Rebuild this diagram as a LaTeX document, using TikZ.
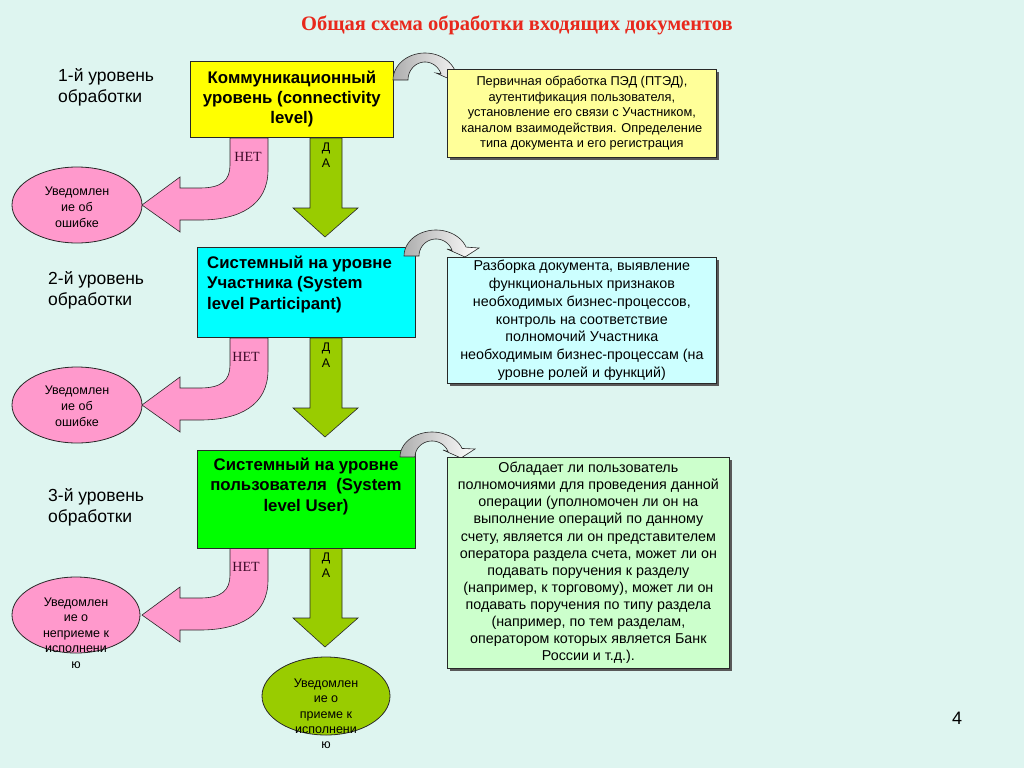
\documentclass[tikz,border=0pt]{standalone}
\usepackage{fontspec}
\setmainfont{Liberation Sans}
\newfontfamily\serifft{Liberation Serif}
\usetikzlibrary{shapes.geometric,shadows}

\definecolor{bg}{RGB}{222,245,240}
\definecolor{titlered}{RGB}{232,40,28}
\definecolor{pinkf}{RGB}{255,153,204}
\definecolor{dagreen}{RGB}{153,204,0}
\definecolor{lyellow}{RGB}{255,255,153}
\definecolor{lcyan}{RGB}{204,255,255}
\definecolor{lgreen}{RGB}{204,255,204}
\definecolor{brgreen}{RGB}{0,255,0}
\definecolor{bryellow}{RGB}{255,255,0}
\definecolor{brcyan}{RGB}{0,255,255}
\definecolor{nettext}{RGB}{60,10,40}
\definecolor{edge}{RGB}{40,40,40}

% curved block arrow, #1,#2 = centre of the arc, #3 = outer y radius
\newcommand\mycurvarrow[3]{%
  \draw[edge, line width=0.6pt, left color=black!32, middle color=black!14, right color=white]
    plot[domain=180:340, samples=30] ({#1+32*cos(\x)},{#2+#3*sin(\x)})
    -- ({#1+43},{#2-8}) -- ({#1+29},{#2+1}) -- ({#1+11},{#2-7})
    -- plot[domain=340:180, samples=30] ({#1+17*cos(\x)},{#2+(#3-9)*sin(\x)})
    -- cycle;}

\newcommand\mynetarrow[1]{%
  \draw[edge, line width=0.6pt, fill=pinkf]
    (230,138+#1) -- (268,138+#1) -- (268,170+#1)
    .. controls (268,205+#1) and (240,220+#1) .. (200,220+#1)
    -- (180,220+#1) -- (180,232+#1) -- (142,205+#1) -- (180,177+#1)
    -- (180,188+#1) -- (200,188+#1)
    .. controls (222,188+#1) and (230,180+#1) .. (230,165+#1) -- cycle;}

\newcommand\mydaarrow[2]{% top y, tip y
  \draw[edge, line width=0.6pt, fill=dagreen]
    (310,#1) -- (342,#1) -- (342,#2-29) -- (358,#2-29) -- (325,#2)
    -- (293,#2-29) -- (310,#2-29) -- cycle;}

\begin{document}
\begin{tikzpicture}[x=1pt,y=-1pt,
  mainbox/.style={draw=edge, line width=0.8pt, anchor=north west, inner sep=0pt},
  infobox/.style={draw=edge, line width=0.8pt, anchor=north west, inner sep=0pt, align=center,
     drop shadow={shadow xshift=3pt, shadow yshift=-3pt, fill=black!65, opacity=1}},
  boxtxt/.style={inner sep=0pt, font=\bfseries\fontsize{16.8}{20.5}\selectfont},
  lvl/.style={inner sep=0pt, anchor=west, align=left, font=\fontsize{17.5}{21}\selectfont},
  ell/.style={ellipse, draw=edge, line width=0.8pt, inner sep=0pt},
  elltxt/.style={inner sep=0pt, align=center, font=\fontsize{12.5}{16}\selectfont},
  nettxt/.style={inner sep=0pt, text=nettext, font=\serifft\fontsize{14}{15}\selectfont},
  datxt/.style={inner sep=0pt, align=center, font=\fontsize{12.5}{15.5}\selectfont}
]
\fill[bg] (0,0) rectangle (1024,768);
\useasboundingbox (0,0) rectangle (1024,768);

\node[inner sep=0pt, text=titlered, font=\serifft\bfseries\fontsize{20.5}{24}\selectfont] (title) at (517,25) {Общая схема обработки входящих документов};

% level labels
\node[lvl] (l1) at (58,87.5) {1-й уровень\\обработки};
\node[lvl] (l2) at (48,290) {2-й уровень\\обработки};
\node[lvl] (l3) at (48,507.5) {3-й уровень\\обработки};

% arrows
\mynetarrow{0}
\mynetarrow{200}
\mynetarrow{410}
\mydaarrow{138}{237}
\mydaarrow{338}{437}
\mydaarrow{548}{647}

% main boxes
\node[mainbox, fill=bryellow, minimum width=203pt, minimum height=76pt, align=center,
  font=\bfseries\fontsize{16.8}{20}\selectfont] (b1) at (190,61) {Коммуникационный\\уровень (connectivity\\level)};
\node[mainbox, fill=brcyan, minimum width=218pt, minimum height=90pt] (b2) at (197,247) {};
\node[boxtxt, anchor=west, align=left] (b2t) at (207,284) {Системный на уровне\\Участника (System\\level Participant)};
\node[mainbox, fill=brgreen, minimum width=218pt, minimum height=98pt] (b3) at (197,450) {};
\node[boxtxt, align=center] (b3t) at (306,486) {Системный на уровне\\пользователя\ \ (System\\level User)};

% labels on arrows
\node[nettxt] (n1) at (248,157) {НЕТ};
\node[nettxt] (n2) at (246,357) {НЕТ};
\node[nettxt] (n3) at (246,567) {НЕТ};
\node[datxt] (d1) at (326,155) {Д\\А};
\node[datxt] (d2) at (326,355) {Д\\А};
\node[datxt] (d3) at (326,565) {Д\\А};

% curved arrows
\mycurvarrow{425}{80}{27}
\mycurvarrow{436}{256}{26}
\mycurvarrow{432}{457}{25}

% info boxes
\node[infobox, fill=lyellow, minimum width=269pt, minimum height=88pt,
  font=\fontsize{12.8}{15.5}\selectfont] (i1) at (447,69)
  {Первичная обработка ПЭД (ПТЭД),\\аутентификация пользователя,\\установление его связи с Участником,\\каналом взаимодействия. Определение\\типа документа и его регистрация};
\node[infobox, fill=lcyan, minimum width=269pt, minimum height=126pt,
  font=\fontsize{14.3}{17.8}\selectfont] (i2) at (447,257)
  {Разборка документа, выявление\\функциональных признаков\\необходимых бизнес-процессов,\\контроль на соответствие\\полномочий Участника\\необходимым бизнес-процессам (на\\уровне ролей и функций)};
\node[infobox, fill=lgreen, minimum width=282pt, minimum height=211pt,
  font=\fontsize{14.3}{17.1}\selectfont] (i3) at (447,457)
  {Обладает ли пользователь\\полномочиями для проведения данной\\операции (уполномочен ли он на\\выполнение операций по данному\\счету, является ли он представителем\\оператора раздела счета, может ли он\\подавать поручения к разделу\\(например, к торговому), может ли он\\подавать поручения по типу раздела\\(например, по тем разделам,\\оператором которых является Банк\\России и т.д.).};

% ellipses
\node[ell, fill=pinkf, minimum width=130pt, minimum height=76pt] (e1) at (77,205) {};
\node[elltxt] (e1t) at (77,207) {Уведомлен\\ие об\\ошибке};
\node[ell, fill=pinkf, minimum width=130pt, minimum height=76pt] (e2) at (77,405) {};
\node[elltxt] (e2t) at (77,406) {Уведомлен\\ие об\\ошибке};
\node[ell, fill=pinkf, minimum width=128pt, minimum height=76pt] (e3) at (76,615) {};
\node[elltxt, font=\fontsize{12.5}{15.5}\selectfont] (e3t) at (76,633) {Уведомлен\\ие о\\неприеме к\\исполнени\\ю};
\node[ell, fill=dagreen, minimum width=128pt, minimum height=78pt] (e4) at (326,696) {};
\node[elltxt, font=\fontsize{12.5}{15.3}\selectfont] (e4t) at (326,714) {Уведомлен\\ие о\\приеме к\\исполнени\\ю};

\node[inner sep=0pt, font=\fontsize{18}{20}\selectfont] (pg) at (957,718) {4};
\end{tikzpicture}
\end{document}
